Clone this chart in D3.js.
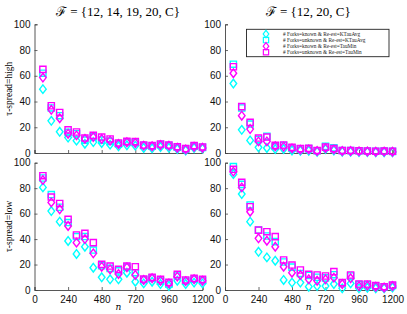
<!DOCTYPE html>
<html>
<head>
<meta charset="utf-8">
<script src="https://cdn.jsdelivr.net/npm/d3@7"></script>
<style>
  body { margin: 0; background: #fff; }
  .tick text { font-family: "Liberation Sans", Arial, sans-serif; font-size: 10px; fill: #111; }
</style>
</head>
<body>
<div id="chart"></div>
<script>
"use strict";

// sample sizes n
var nVals = [60, 120, 180, 240, 300, 360, 420, 480, 540, 600, 660, 720, 780, 840, 900, 960, 1020, 1080, 1140, 1200];
var xTicks = [0, 240, 480, 720, 960, 1200];
var yTicks = [0, 20, 40, 60, 80, 100];

var titles = ["\u2131 = {12, 14, 19, 20, C}", "\u2131 = {12, 20, C}"];
var rowLabels = ["\u03c4-spread=high", "\u03c4-spread=low"];
var legendLabels = [
    "# Forks=known & Re-est=KTauAvg",
    "# Forks=unknown & Re-est=KTauAvg",
    "# Forks=known & Re-est=TauMin",
    "# Forks=unknown & Re-est=TauMin"
];

// tau-spread = high, F = {12,14,19,20,C}
var hiA_kAvg = [49.6, 25, 16.5, 12, 9.6, 7.2, 8.5, 7.8, 6.5, 5.2, 6, 5.7, 3.9, 3.6, 4.7, 4.1, 3.1, 2, 3.9, 3.4];
var hiA_uAvg = [62, 35, 29, 16, 15, 10, 12.5, 10, 9, 7, 8.5, 8.2, 5.8, 5.3, 6.5, 5.8, 4.5, 3, 5.3, 4.4];
var hiA_kMin = [58.6, 33.6, 27, 15, 13.7, 11, 12.4, 10.9, 9.6, 7, 8.3, 7.8, 5.7, 5.2, 6.2, 5.7, 4.1, 2.8, 4.9, 4.1];
var hiA_uMin = [65, 36.7, 31.5, 18, 16.3, 11.6, 13.7, 12.4, 10.9, 7.8, 9, 8.8, 6.2, 5.7, 7, 6.2, 4.9, 3.4, 5.7, 4.7];

// tau-spread = high, F = {12,20,C}
var hiB_kAvg = [54, 18, 9.8, 4.4, 3.9, 3.1, 3.1, 2, 1.8, 1.8, 1, 3, 2, 1, 1, 0.8, 0.8, 0.5, 0.6, 0.5];
var hiB_uAvg = [69, 35, 22.5, 10.5, 12.9, 5, 5.8, 4, 3.2, 3.4, 1.8, 5.2, 4, 2, 2, 1.8, 1.5, 1.4, 1.5, 1.3];
var hiB_kMin = [62, 29, 18.6, 9, 9, 5.2, 4.9, 3.6, 2.6, 2.8, 1.5, 3.8, 2.8, 1.5, 1.5, 1.3, 1.2, 1, 1.1, 1];
var hiB_uMin = [67, 36, 23.8, 11.6, 12.4, 5.9, 6.2, 4.4, 3.4, 3.6, 2, 4.6, 3.4, 2, 2, 1.8, 1.6, 1.4, 1.5, 1.4];

// tau-spread = low, F = {12,14,19,20,C}
var loA_kAvg = [80.6, 62, 53.7, 38.5, 28.3, 34, 17.5, 10, 8.4, 8.4, 13.6, 6.5, 5.2, 6.5, 4.7, 3.1, 7.3, 4.7, 5.8, 5.2];
var loA_uAvg = [88, 75, 65, 53, 42, 42, 31.4, 19, 17, 15, 18, 13.6, 8, 9.5, 7, 4.5, 11, 7, 8.5, 7.5];
var loA_kMin = [86.4, 68.8, 63.4, 50.3, 37.2, 40, 28.8, 18.3, 16.2, 12.6, 17.8, 11.8, 7.9, 9.2, 7.3, 5.2, 10.5, 7, 8.4, 7.3];
var loA_uMin = [89.8, 73, 68, 55.5, 43.2, 44.5, 37.2, 20.2, 18.8, 16.2, 18.8, 18.3, 8.6, 9.9, 8.4, 6, 12.3, 7.9, 9.2, 8.4];

// tau-spread = low, F = {12,20,C}
var loB_kAvg = [91, 75.4, 53.7, 30, 25.6, 23, 7.9, 5.8, 5.8, 2.6, 3.1, 3.1, 4.7, 1.3, 5.2, 1.3, 1.8, 1.3, 1.3, 2];
var loB_uAvg = [96.9, 83, 66.8, 47, 42.4, 38, 22, 18, 13, 11.5, 10, 9.5, 12, 5.5, 11, 4.2, 4, 3, 2.3, 3.5];
var loB_kMin = [93, 80.6, 61.5, 40.6, 38.7, 34, 18.3, 13.6, 11.8, 8.4, 7.3, 8.4, 9.7, 4.7, 9.2, 3.1, 3.4, 2.6, 2, 3.1];
var loB_uMin = [94.8, 84.6, 65.4, 47, 45.8, 41.9, 23.6, 19.6, 15.7, 12.3, 11.8, 11, 14.4, 5.8, 11.8, 4.7, 4.7, 3.4, 2.6, 3.9];

var seriesStyle = [
    { color: "#00ffff", shape: "diamond" },
    { color: "#00ffff", shape: "square" },
    { color: "#ff00ff", shape: "diamond" },
    { color: "#ff00ff", shape: "square" }
];

var panels = [
    { col: 0, row: 0, series: [hiA_kAvg, hiA_uAvg, hiA_kMin, hiA_uMin] },
    { col: 1, row: 0, series: [hiB_kAvg, hiB_uAvg, hiB_kMin, hiB_uMin] },
    { col: 0, row: 1, series: [loA_kAvg, loA_uAvg, loA_kMin, loA_uMin] },
    { col: 1, row: 1, series: [loB_kAvg, loB_uAvg, loB_kMin, loB_uMin] }
];

var width = 407, height = 314;
var colX = [[34.5, 202.5], [225, 392.5]];
var rowY = [[153, 24.3], [290, 162.7]];

var svg = d3.select("#chart").append("svg")
    .attr("width", width)
    .attr("height", height);

function markerPath(shape) {
    if (shape === "diamond") return "M0,-4.3L3.3,0L0,4.3L-3.3,0Z";
    return "M-3.1,-3.1L3.1,-3.1L3.1,3.1L-3.1,3.1Z";
}

////////////////////////////////////////////////
// panels
panels.forEach(function (p) {
    var x = d3.scaleLinear().domain([0, 1200]).range(colX[p.col]);
    var y = d3.scaleLinear().domain([0, 100]).range(rowY[p.row]);
    var g = svg.append("g");

    var xAxis = d3.axisBottom(x).tickValues(xTicks).tickSize(-3).tickPadding(6).tickFormat(d3.format("d"));
    if (p.row === 0) xAxis.tickFormat("");
    var gx = g.append("g")
        .attr("transform", "translate(0," + y(0) + ")")
        .call(xAxis);

    var gy = g.append("g")
        .attr("transform", "translate(" + x(0) + ",0)")
        .call(d3.axisLeft(y).tickValues(yTicks).tickSize(-3).tickPadding(4));

    [gx, gy].forEach(function (a) {
        a.select(".domain").attr("stroke", "#444").attr("stroke-width", 0.9);
        a.selectAll(".tick line").attr("stroke", "#444").attr("stroke-width", 0.8);
    });

    p.series.forEach(function (vals, si) {
        var st = seriesStyle[si];
        g.append("g").selectAll("path")
            .data(vals)
            .enter().append("path")
            .attr("d", markerPath(st.shape))
            .attr("transform", function (d, i) { return "translate(" + x(nVals[i]) + "," + y(d) + ")"; })
            .attr("fill", "none")
            .attr("stroke", st.color)
            .attr("stroke-width", 1.4);
    });

    if (p.row === 1) {
        g.append("text")
            .attr("x", (colX[p.col][0] + colX[p.col][1]) / 2)
            .attr("y", 310)
            .attr("text-anchor", "middle")
            .style("font-family", "'DejaVu Serif', serif")
            .style("font-style", "italic")
            .style("font-size", "9px")
            .text("n");
    }
    if (p.row === 0) {
        g.append("text")
            .attr("x", (colX[p.col][0] + colX[p.col][1]) / 2 - 0.5)
            .attr("y", 16)
            .attr("text-anchor", "middle")
            .style("font-family", "'Liberation Serif', serif")
            .style("font-size", "13px")
            .text(titles[p.col]);
    }
    if (p.col === 0) {
        var cy = (rowY[p.row][0] + rowY[p.row][1]) / 2;
        g.append("text")
            .attr("transform", "translate(12," + cy + ") rotate(-90)")
            .attr("text-anchor", "middle")
            .style("font-family", "'Liberation Serif', serif")
            .style("font-size", "9.5px")
            .text(rowLabels[p.row]);
    }
});

////////////////////////////////////////////////
// legend
var leg = svg.append("g");
leg.append("rect")
    .attr("x", 246.5).attr("y", 29.3)
    .attr("width", 142.5).attr("height", 27.4)
    .attr("fill", "#fff")
    .attr("stroke", "#222")
    .attr("stroke-width", 0.9);

legendLabels.forEach(function (lab, i) {
    var yy = 34 + i * 6.1;
    leg.append("path")
        .attr("d", markerPath(seriesStyle[i].shape))
        .attr("transform", "translate(266," + yy + ") scale(0.85)")
        .attr("fill", "none")
        .attr("stroke", seriesStyle[i].color)
        .attr("stroke-width", 1.4);
    leg.append("text")
        .attr("x", 283)
        .attr("y", yy + 1.8)
        .style("font-family", "'Liberation Serif', serif")
        .style("font-size", "5.3px")
        .style("fill", "#222")
        .text(lab);
});
</script>
</body>
</html>
